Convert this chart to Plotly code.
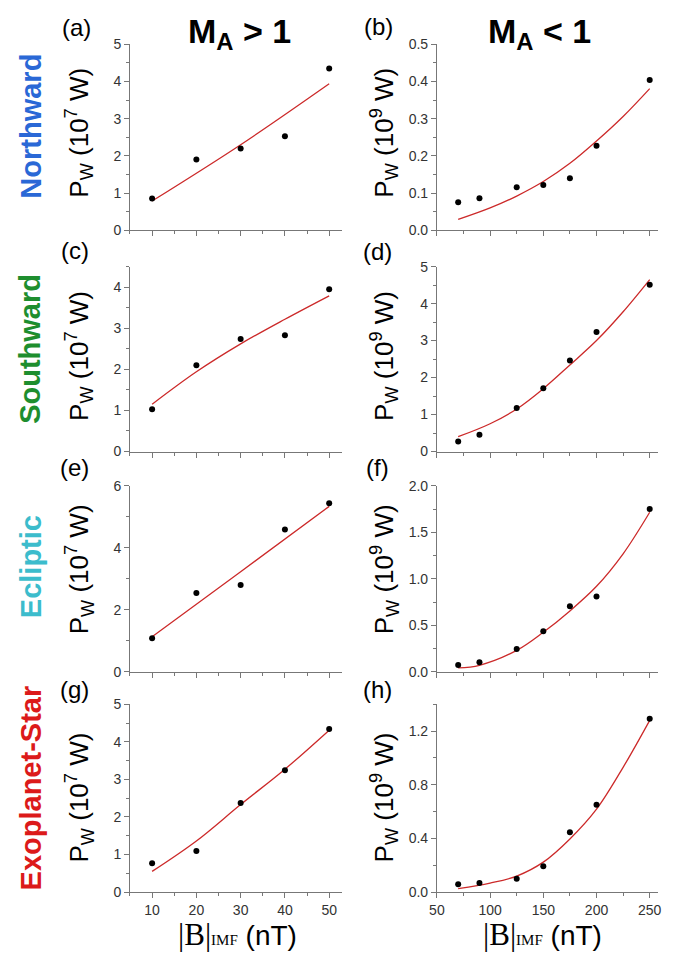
import plotly.graph_objects as go
from plotly.subplots import make_subplots

# magnetic field strength (nT)
b_low = [10, 20, 30, 40, 50]
b_high = [70, 90, 125, 150, 175, 200, 250]

# measured power, M_A > 1 (1e7 W) and M_A < 1 (1e9 W)
pw_a = [0.855, 1.90, 2.20, 2.53, 4.35]
pw_b = [0.075, 0.086, 0.116, 0.122, 0.140, 0.227, 0.404]
pw_c = [1.03, 2.10, 2.74, 2.83, 3.95]
pw_d = [0.27, 0.45, 1.18, 1.71, 2.46, 3.23, 4.51]
pw_e = [1.08, 2.54, 2.80, 4.59, 5.44]
pw_f = [0.074, 0.103, 0.244, 0.435, 0.704, 0.811, 1.752]
pw_g = [0.77, 1.09, 2.37, 3.24, 4.34]
pw_h = [0.059, 0.067, 0.099, 0.193, 0.445, 0.650, 1.291]

# fitted curves
fit_a_x = [10, 30, 50]
fit_a_y = [0.785, 2.30, 3.94]
fit_b_x = [70, 100, 125, 150, 175, 200, 225, 250]
fit_b_y = [0.029, 0.060, 0.092, 0.131, 0.180, 0.240, 0.306, 0.381]
fit_c_x = [10, 20, 30, 40, 50]
fit_c_y = [1.15, 1.94, 2.62, 3.22, 3.79]
fit_d_x = [70, 100, 125, 150, 175, 200, 225, 250]
fit_d_y = [0.40, 0.75, 1.15, 1.70, 2.34, 3.0, 3.78, 4.65]
fit_e_x = [10, 30, 50]
fit_e_y = [1.13, 3.23, 5.34]
fit_f_x = [70, 90, 125, 150, 175, 200, 225, 250]
fit_f_y = [0.042, 0.07, 0.23, 0.425, 0.655, 0.92, 1.27, 1.717]
fit_g_x = [10, 20, 30, 40, 50]
fit_g_y = [0.55, 1.36, 2.33, 3.27, 4.31]
fit_h_x = [70, 100, 125, 150, 175, 200, 225, 250]
fit_h_y = [0.025, 0.067, 0.119, 0.223, 0.396, 0.618, 0.93, 1.28]

rows = ['Northward', 'Southward', 'Ecliptic', 'Exoplanet-Star']
row_colors = ['#2a68d6', '#1e8e2e', '#3cbccc', '#dc1a1a']
letters = ['a', 'b', 'c', 'd', 'e', 'f', 'g', 'h']

W, H = 675, 963
FONT = 'Liberation Sans, Arial, sans-serif'
SERIF = 'Liberation Serif, Times New Roman, serif'
AX = '#777777'


def px(x):
    return x / W


def py(y):
    return 1 - y / H


panels = [
    (b_low, pw_a, fit_a_x, fit_a_y),
    (b_high, pw_b, fit_b_x, fit_b_y),
    (b_low, pw_c, fit_c_x, fit_c_y),
    (b_high, pw_d, fit_d_x, fit_d_y),
    (b_low, pw_e, fit_e_x, fit_e_y),
    (b_high, pw_f, fit_f_x, fit_f_y),
    (b_low, pw_g, fit_g_x, fit_g_y),
    (b_high, pw_h, fit_h_x, fit_h_y),
]

# y ranges / ticks per panel
y_setup = [
    dict(range=[0, 5], dtick=1, minor=0.5, fmt='d'),
    dict(range=[0, 0.5], dtick=0.1, minor=0.05, fmt='.1f'),
    dict(range=[0, 4.5], dtick=1, minor=0.5, fmt='d'),
    dict(range=[0, 5], dtick=1, minor=0.5, fmt='d'),
    dict(range=[0, 6], dtick=2, minor=1, fmt='d'),
    dict(range=[0, 2], dtick=0.5, minor=0.25, fmt='.1f'),
    dict(range=[0, 5], dtick=1, minor=0.5, fmt='d'),
    dict(range=[0, 1.4], dtick=0.4, minor=0.2, fmt='.1f'),
]

# pixel boxes of the plot areas
row_px = [(37, 226), (263, 451), (486, 675), (708, 899)]
col_px = [(124, 340), (436, 661)]

fig = make_subplots(rows=4, cols=2)

for i, (bx, by, fx, fy) in enumerate(panels):
    r, c = i // 2 + 1, i % 2 + 1
    fig.add_trace(go.Scatter(
        x=fx, y=fy, mode='lines', line=dict(color='#cc2a2a', width=1.3, shape='spline'),
        showlegend=False, hoverinfo='skip'
    ), row=r, col=c)
    fig.add_trace(go.Scatter(
        x=bx, y=by, mode='markers', marker=dict(color='black', size=6),
        showlegend=False
    ), row=r, col=c)

    ys = y_setup[i]
    top, bot = row_px[r - 1]
    left, right = col_px[c - 1]
    fig.update_yaxes(
        range=ys['range'], dtick=ys['dtick'], tick0=0, tickformat=ys['fmt'],
        domain=[py(bot), py(top)], showgrid=False, zeroline=False,
        showline=True, linecolor=AX, linewidth=1,
        ticks='outside', ticklen=5, tickcolor=AX,
        minor=dict(ticks='outside', ticklen=3, tickcolor=AX, dtick=ys['minor'], tick0=0, showgrid=False),
        tickfont=dict(family=FONT, size=14, color='#333333'),
        row=r, col=c
    )
    if c == 1:
        xs = dict(range=[5, 53], dtick=10, tick0=0, minor=dict(ticks='outside', ticklen=3, tickcolor=AX, dtick=5, tick0=0, showgrid=False))
    else:
        xs = dict(range=[50, 258], dtick=50, tick0=0, minor=dict(ticks='outside', ticklen=3, tickcolor=AX, dtick=25, tick0=0, showgrid=False))
    fig.update_xaxes(
        **xs, domain=[px(left), px(right)], showgrid=False, zeroline=False,
        showline=True, linecolor=AX, linewidth=1,
        ticks='outside', ticklen=5, tickcolor=AX,
        showticklabels=(r == 4),
        tickfont=dict(family=FONT, size=14, color='#333333'),
        row=r, col=c
    )

ann = []

# panel letters
letter_pos = [(70, 20), (377, 19), (68, 247), (376, 248), (68, 467), (376, 467), (68, 693), (376, 693)]
for l, (x, y) in zip(letters, letter_pos):
    ann.append(dict(x=px(x), y=py(y), text='(%s)' % l, font=dict(family=FONT, size=24, color='black')))

# y axis titles
ytitle_y = [127, 354, 571, 803]
for k, y in enumerate(ytitle_y):
    ann.append(dict(x=px(72), y=py(y), text='P<sub>W</sub> (10<sup>7</sup> W)', textangle=-90,
                    font=dict(family=FONT, size=26, color='black')))
    ann.append(dict(x=px(382), y=py(y), text='P<sub>W</sub> (10<sup>9</sup> W)', textangle=-90,
                    font=dict(family=FONT, size=26, color='black')))

# row labels
row_y = [120, 347, 568, 793]
for name, col, y in zip(rows, row_colors, row_y):
    ann.append(dict(x=px(23), y=py(y), text='<b>%s</b>' % name, textangle=-90,
                    font=dict(family=FONT, size=29, color=col)))

# column headers
ann.append(dict(x=px(235), y=py(26), text='<b>M<sub>A</sub> &gt; 1</b>', font=dict(family=FONT, size=34, color='black')))
ann.append(dict(x=px(540), y=py(26), text='<b>M<sub>A</sub> &lt; 1</b>', font=dict(family=FONT, size=34, color='black')))

# x axis titles
xt = ('<span style="font-family:%s;font-size:31px">|B|</span>'
      '<span style="font-family:%s;font-size:15px">IMF</span> (nT)') % (SERIF, SERIF)
for x in (233, 543):
    ann.append(dict(x=px(x), y=py(942), text=xt, font=dict(family=FONT, size=28, color='black')))

for a in ann:
    a.update(xref='paper', yref='paper', showarrow=False, xanchor='center', yanchor='middle')

fig.update_layout(
    width=W, height=H,
    margin=dict(l=0, r=0, t=0, b=0),
    paper_bgcolor='white', plot_bgcolor='white',
    annotations=ann,
    showlegend=False
)

# drop the default page margin so the figure sits at the window's corner
fig.write_html('out.html', config={'displayModeBar': False},
               post_script="document.body.style.margin='0px';")
